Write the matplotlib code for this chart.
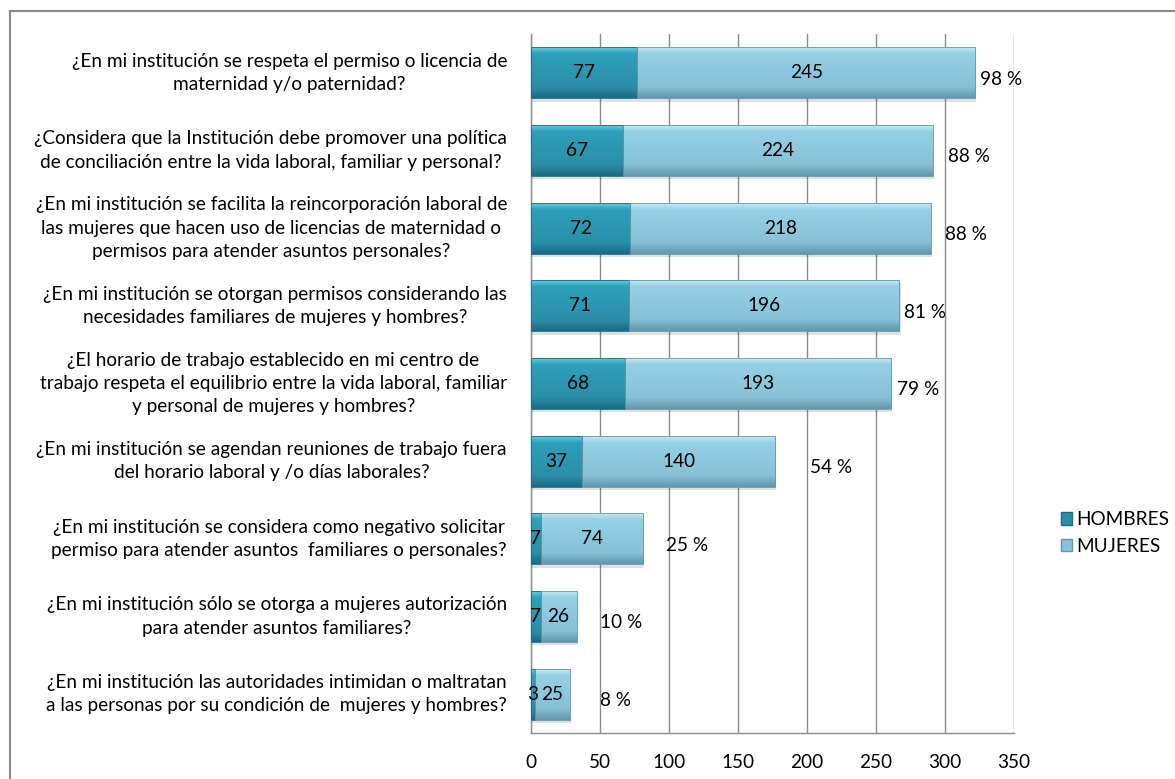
import numpy as np
import matplotlib
matplotlib.use("Agg")
import matplotlib.pyplot as plt
from matplotlib.patches import Rectangle, Patch
from matplotlib.lines import Line2D
from matplotlib.colors import to_rgb
import matplotlib.transforms as mtransforms

plt.rcParams['font.family'] = ['Lato', 'DejaVu Sans']

# datos de la encuesta
preguntas = [
    "¿En mi institución se respeta el permiso o licencia de\nmaternidad y/o paternidad?",
    "¿Considera que la Institución debe promover una política\nde conciliación entre la vida laboral, familiar y personal?",
    "¿En mi institución se facilita la reincorporación laboral de\nlas mujeres que hacen uso de licencias de maternidad o\npermisos para atender asuntos personales?",
    "¿En mi institución se otorgan permisos considerando las\nnecesidades familiares de mujeres y hombres?",
    "¿El horario de trabajo establecido en mi centro de\ntrabajo respeta el equilibrio entre la vida laboral, familiar\ny personal de mujeres y hombres?",
    "¿En mi institución se agendan reuniones de trabajo fuera\ndel horario laboral y /o días laborales?",
    "¿En mi institución se considera como negativo solicitar\npermiso para atender asuntos  familiares o personales?",
    "¿En mi institución sólo se otorga a mujeres autorización\npara atender asuntos familiares?",
    "¿En mi institución las autoridades intimidan o maltratan\na las personas por su condición de  mujeres y hombres?",
]
hombres = [77, 67, 72, 71, 68, 37, 7, 7, 3]
mujeres = [245, 224, 218, 196, 193, 140, 74, 26, 25]
porcentaje = [98, 88, 88, 81, 79, 54, 25, 10, 8]
xticks = [0, 50, 100, 150, 200, 250, 300, 350]

# posicion x (en datos) de las etiquetas de porcentaje
pct_pos = [325, 302, 300, 270, 265, 202, 98, 50, 50]

FS = 13.7
c_hom = ['#66d2e6', '#2f9fba', '#2a8fa9', '#1d6b82']
c_muj = ['#c8eef9', '#96d0e4', '#87c1d7', '#6497ab']


def gradiente(ax, x0, ancho, y, alto, cols, z=3):
    n = 60
    t = np.linspace(0, 1, n)
    stops = [0.0, 0.14, 0.78, 1.0]
    rgb = np.array([to_rgb(c) for c in cols])
    img = np.zeros((n, 1, 3))
    for k in range(3):
        img[:, 0, k] = np.interp(t, stops, rgb[:, k])
    # sombra
    sh = Rectangle((x0 + 0.8, y - alto / 2 + 0.04), ancho, alto, facecolor='#000000',
                   alpha=0.12, edgecolor='none', zorder=z - 1)
    ax.add_patch(sh)
    rect = Rectangle((x0, y - alto / 2), ancho, alto, facecolor='none',
                     edgecolor=cols[3], lw=0.6, zorder=z + 1)
    ax.add_patch(rect)
    im = ax.imshow(img, extent=(x0, x0 + ancho, y + alto / 2, y - alto / 2),
                   origin='upper', aspect='auto', zorder=z, interpolation='bilinear')
    im.set_clip_path(rect)


fig = plt.figure(figsize=(11.75, 7.79), dpi=100)
ax = fig.add_axes([531 / 1175, 46 / 779, 483 / 1175, 699 / 779])

alto = 0.66
ys = np.arange(len(preguntas))
for i in ys:
    gradiente(ax, 0, hombres[i], i, alto, c_hom)
    gradiente(ax, hombres[i], mujeres[i], i, alto, c_muj)
    ax.text(hombres[i] / 2, i, str(hombres[i]), ha='center', va='center',
            fontsize=FS, zorder=6)
    ax.text(hombres[i] + mujeres[i] / 2, i, str(mujeres[i]), ha='center', va='center',
            fontsize=FS, zorder=6)
    ax.text(pct_pos[i], i + 0.08, f"{porcentaje[i]} %", ha='left', va='center',
            fontsize=FS, zorder=6)

ax.set_xlim(0, 350)
ax.set_ylim(len(preguntas) - 0.5, -0.5)
ax.set_xticks(xticks)
ax.set_xticklabels([str(v) for v in xticks], fontsize=FS)
ax.set_yticks([])
ax.tick_params(axis='x', length=0, pad=15)
ax.xaxis.grid(True, color='#8c8c8c', lw=1.0)
ax.set_axisbelow(True)
for s in ['top', 'right']:
    ax.spines[s].set_visible(False)
for s in ['left', 'bottom']:
    ax.spines[s].set_color('#8c8c8c')
    ax.spines[s].set_linewidth(1.0)

trans = mtransforms.blended_transform_factory(ax.transAxes, ax.transData)
for i, p in enumerate(preguntas):
    ax.text(-24 / 483, i, p, transform=trans, ha='right', va='center',
            multialignment='center', fontsize=FS, linespacing=1.45)

handles = [Patch(facecolor=c_hom[2], edgecolor=c_hom[3], label='HOMBRES'),
           Patch(facecolor=c_muj[2], edgecolor=c_muj[3], label='MUJERES')]
fig.legend(handles=handles, loc='center left', bbox_to_anchor=(1051 / 1175, 1 - 533 / 779),
           frameon=False, fontsize=FS, handlelength=0.6, handleheight=0.6,
           handletextpad=0.25, labelspacing=0.5, borderpad=0)

# marco del grafico
fig.add_artist(Line2D([10 / 1175, 10 / 1175], [0, 1 - 11 / 779], transform=fig.transFigure,
                      color='#8a8a8a', lw=1.5))
fig.add_artist(Line2D([10 / 1175, 1], [1 - 11 / 779, 1 - 11 / 779], transform=fig.transFigure,
                      color='#8a8a8a', lw=1.5))

fig.savefig('out.png', dpi=100)
